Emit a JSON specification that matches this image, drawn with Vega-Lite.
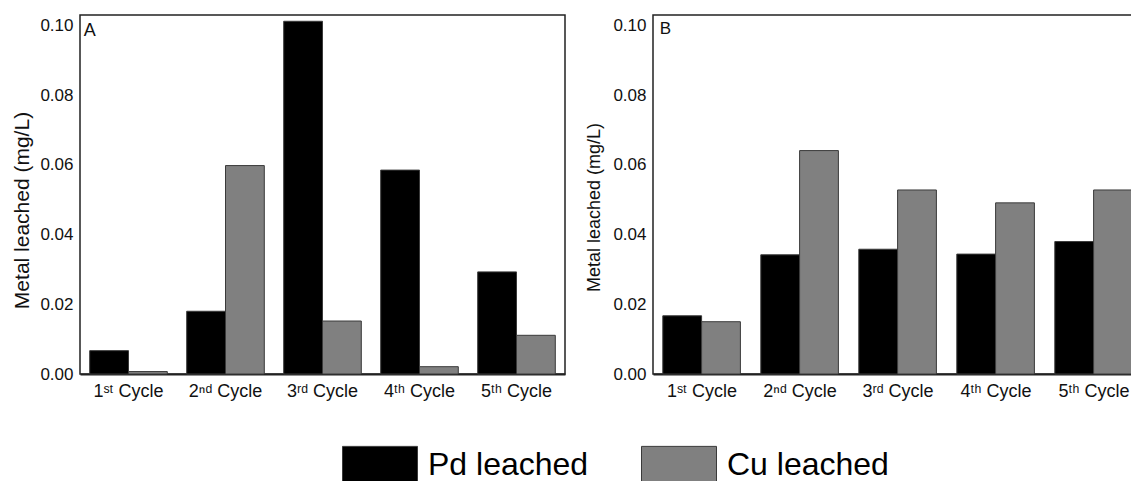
{
  "$schema": "https://vega.github.io/schema/vega-lite/v6.json",
  "padding": {"left": 11, "top": 14, "right": 0, "bottom": 0},
  "background": "white",
  "datasets": {
    "bars": [
      {"panel": "A", "cycle": "1ˢᵗ Cycle", "metal": "Pd leached", "value": 0.0067},
      {"panel": "A", "cycle": "1ˢᵗ Cycle", "metal": "Cu leached", "value": 0.0007},
      {"panel": "A", "cycle": "2ⁿᵈ Cycle", "metal": "Pd leached", "value": 0.018},
      {"panel": "A", "cycle": "2ⁿᵈ Cycle", "metal": "Cu leached", "value": 0.0598},
      {"panel": "A", "cycle": "3ʳᵈ Cycle", "metal": "Pd leached", "value": 0.1012},
      {"panel": "A", "cycle": "3ʳᵈ Cycle", "metal": "Cu leached", "value": 0.0152},
      {"panel": "A", "cycle": "4ᵗʰ Cycle", "metal": "Pd leached", "value": 0.0585},
      {"panel": "A", "cycle": "4ᵗʰ Cycle", "metal": "Cu leached", "value": 0.0021},
      {"panel": "A", "cycle": "5ᵗʰ Cycle", "metal": "Pd leached", "value": 0.0293},
      {"panel": "A", "cycle": "5ᵗʰ Cycle", "metal": "Cu leached", "value": 0.0111},
      {"panel": "B", "cycle": "1ˢᵗ Cycle", "metal": "Pd leached", "value": 0.0167},
      {"panel": "B", "cycle": "1ˢᵗ Cycle", "metal": "Cu leached", "value": 0.0150},
      {"panel": "B", "cycle": "2ⁿᵈ Cycle", "metal": "Pd leached", "value": 0.0342},
      {"panel": "B", "cycle": "2ⁿᵈ Cycle", "metal": "Cu leached", "value": 0.0641},
      {"panel": "B", "cycle": "3ʳᵈ Cycle", "metal": "Pd leached", "value": 0.0358},
      {"panel": "B", "cycle": "3ʳᵈ Cycle", "metal": "Cu leached", "value": 0.0528},
      {"panel": "B", "cycle": "4ᵗʰ Cycle", "metal": "Pd leached", "value": 0.0344},
      {"panel": "B", "cycle": "4ᵗʰ Cycle", "metal": "Cu leached", "value": 0.0491},
      {"panel": "B", "cycle": "5ᵗʰ Cycle", "metal": "Pd leached", "value": 0.0380},
      {"panel": "B", "cycle": "5ᵗʰ Cycle", "metal": "Cu leached", "value": 0.0528}
    ],
    "labels": [
      {"panel": "A", "label": "A"},
      {"panel": "B", "label": "B"}
    ]
  },
  "spacing": 19,
  "hconcat": [
    {
      "width": 485,
      "height": 359,
      "layer": [
        {
          "data": {"name": "bars"},
          "transform": [{"filter": "datum.panel === 'A'"}],
          "mark": {"type": "bar", "stroke": "#3a3a3a", "strokeWidth": 1},
          "encoding": {
            "x": {"field": "cycle", "type": "nominal", "sort": ["1ˢᵗ Cycle", "2ⁿᵈ Cycle", "3ʳᵈ Cycle", "4ᵗʰ Cycle", "5ᵗʰ Cycle"], "scale": {"paddingInner": 0.2, "paddingOuter": 0.1}, "axis": {"title": null, "labelAngle": 0}},
            "xOffset": {"field": "metal", "type": "nominal", "sort": ["Pd leached", "Cu leached"], "scale": {"paddingInner": 0, "paddingOuter": 0}},
            "y": {"field": "value", "type": "quantitative", "scale": {"domain": [0, 0.103], "nice": false, "zero": true}, "axis": {"title": "Metal leached (mg/L)", "titleFontSize": 21, "titlePadding": 7, "titleY": 195, "values": [0, 0.02, 0.04, 0.06, 0.08, 0.1], "format": ".2f"}},
            "fill": {"field": "metal", "type": "nominal", "scale": {"domain": ["Pd leached", "Cu leached"], "range": ["#000000", "#808080"]}, "legend": {"title": null, "orient": "none", "legendX": 262, "legendY": 412, "direction": "horizontal"}}
          }
        },
        {
          "data": {"name": "labels"},
          "transform": [{"filter": "datum.panel === 'A'"}],
          "mark": {"type": "text", "align": "left", "baseline": "alphabetic", "fontSize": 18, "font": "Liberation Sans", "color": "#111", "dx": -6, "dy": 11},
          "encoding": {
            "x": {"datum": "1ˢᵗ Cycle", "type": "nominal", "bandPosition": 0},
            "y": {"datum": 0.1, "type": "quantitative"},
            "text": {"field": "label"}
          }
        }
      ]
    },
    {
      "width": 490,
      "height": 359,
      "layer": [
        {
          "data": {"name": "bars"},
          "transform": [{"filter": "datum.panel === 'B'"}],
          "mark": {"type": "bar", "stroke": "#3a3a3a", "strokeWidth": 1},
          "encoding": {
            "x": {"field": "cycle", "type": "nominal", "sort": ["1ˢᵗ Cycle", "2ⁿᵈ Cycle", "3ʳᵈ Cycle", "4ᵗʰ Cycle", "5ᵗʰ Cycle"], "scale": {"paddingInner": 0.2, "paddingOuter": 0.1}, "axis": {"title": null, "labelAngle": 0}},
            "xOffset": {"field": "metal", "type": "nominal", "sort": ["Pd leached", "Cu leached"], "scale": {"paddingInner": 0, "paddingOuter": 0}},
            "y": {"field": "value", "type": "quantitative", "scale": {"domain": [0, 0.103], "nice": false, "zero": true}, "axis": {"title": "Metal leached (mg/L)", "titleFontSize": 18, "titlePadding": 9, "titleY": 192, "values": [0, 0.02, 0.04, 0.06, 0.08, 0.1], "format": ".2f"}},
            "fill": {"field": "metal", "type": "nominal", "scale": {"domain": ["Pd leached", "Cu leached"], "range": ["#000000", "#808080"]}, "legend": {"title": null, "orient": "none", "legendX": 262, "legendY": 412, "direction": "horizontal"}}
          }
        },
        {
          "data": {"name": "labels"},
          "transform": [{"filter": "datum.panel === 'B'"}],
          "mark": {"type": "text", "align": "left", "baseline": "alphabetic", "fontSize": 17, "font": "Liberation Sans", "color": "#111", "dx": -3, "dy": 9},
          "encoding": {
            "x": {"datum": "1ˢᵗ Cycle", "type": "nominal", "bandPosition": 0},
            "y": {"datum": 0.1, "type": "quantitative"},
            "text": {"field": "label"}
          }
        }
      ]
    }
  ],
  "config": {
    "font": "Liberation Sans",
    "view": {"stroke": "#222", "strokeWidth": 1.5},
    "axis": {"grid": false, "ticks": false, "domain": false, "labelFont": "Liberation Sans", "labelColor": "#111", "titleFont": "Liberation Sans", "titleColor": "#111", "titleFontWeight": "normal"},
    "axisX": {"labelFontSize": 18, "labelPadding": 8, "domain": true, "domainColor": "#222", "domainWidth": 2},
    "axisY": {"labelFontSize": 17, "labelPadding": 7},
    "legend": {"symbolType": "M-1,-0.5H1V0.5H-1Z", "symbolSize": 5625, "symbolStrokeColor": "#3a3a3a", "symbolStrokeWidth": 1, "labelFontSize": 32, "labelFont": "Liberation Sans", "labelColor": "#000", "labelOffset": 10, "columnPadding": 50, "labelLimit": 0, "symbolOpacity": 1}
  }
}
